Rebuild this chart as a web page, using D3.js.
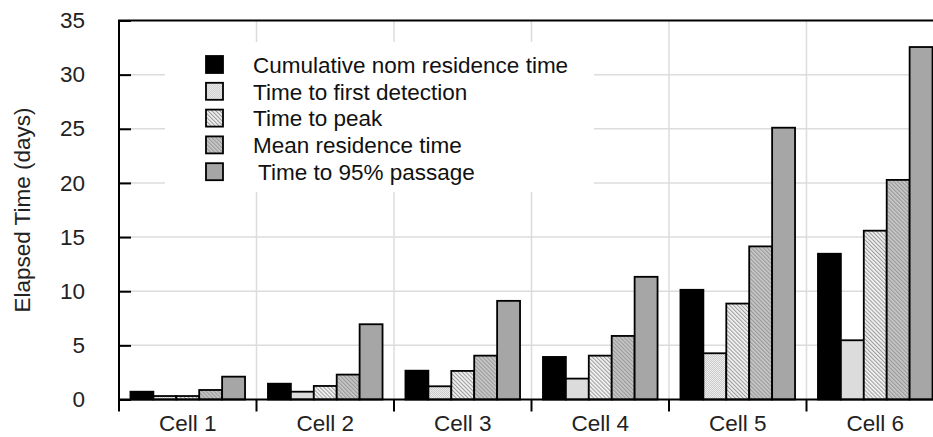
<!DOCTYPE html>
<html>
<head>
<meta charset="utf-8">
<script src="https://cdn.jsdelivr.net/npm/d3@7"></script>
<style>
  body { margin: 0; background: #fff; }
  svg { display: block; font-family: "Liberation Sans", Arial, sans-serif; }
</style>
</head>
<body>
<svg width="933" height="437"></svg>
<script>
// data
const cells = ["Cell 1", "Cell 2", "Cell 3", "Cell 4", "Cell 5", "Cell 6"];
const seriesNames = ["Cumulative nom residence time", "Time to first detection", "Time to peak",
                     "Mean residence time", "Time to 95% passage"];
const cumNom   = [0.72, 1.46, 2.66, 3.93, 10.13, 13.46];
const firstDet = [0.32, 0.72, 1.22, 1.93, 4.27, 5.47];
const toPeak   = [0.32, 1.25, 2.64, 4.05, 8.86, 15.59];
const meanRes  = [0.88, 2.30, 4.05, 5.87, 14.14, 20.28];
const pass95   = [2.11, 6.95, 9.11, 11.33, 25.1, 32.55];
const yTicks = [0, 5, 10, 15, 20, 25, 30, 35];

const series = [cumNom, firstDet, toPeak, meanRes, pass95];
const fills = ["#000", "url(#dots)", "url(#hatchLight)", "url(#hatchDark)", "#a6a6a6"];

const svg = d3.select("svg");
const plotLeft = 119, plotRight = 944, plotTop = 20.5, plotBottom = 399.5;
const fontSize = "22.5px";

// patterns
const defs = svg.append("defs");
const dots = defs.append("pattern").attr("id", "dots")
  .attr("width", 2).attr("height", 2).attr("patternUnits", "userSpaceOnUse");
dots.append("rect").attr("width", 2).attr("height", 2).attr("fill", "#ececec");
dots.append("rect").attr("width", 1).attr("height", 1).attr("fill", "#cccccc");
dots.append("rect").attr("x", 1).attr("y", 1).attr("width", 1).attr("height", 1).attr("fill", "#cccccc");

const hl = defs.append("pattern").attr("id", "hatchLight")
  .attr("width", 2.8).attr("height", 2.8).attr("patternUnits", "userSpaceOnUse")
  .attr("patternTransform", "rotate(-45)");
hl.append("rect").attr("width", 2.8).attr("height", 2.8).attr("fill", "#f6f6f6");
hl.append("rect").attr("width", 1.1).attr("height", 2.8).attr("fill", "#9c9c9c");

const hd = defs.append("pattern").attr("id", "hatchDark")
  .attr("width", 2.8).attr("height", 2.8).attr("patternUnits", "userSpaceOnUse")
  .attr("patternTransform", "rotate(-45)");
hd.append("rect").attr("width", 2.8).attr("height", 2.8).attr("fill", "#c8c8c8");
hd.append("rect").attr("width", 1.1).attr("height", 2.8).attr("fill", "#989898");

// scales
const x = d3.scaleBand().domain(cells).range([plotLeft, plotRight]);
const y = d3.scaleLinear().domain([0, 35]).range([plotBottom, plotTop]);
const xs = d3.scaleBand().domain(d3.range(series.length))
  .range([0, x.bandwidth()]).paddingOuter(0.5).paddingInner(0);

// grid
const grid = svg.append("g").attr("stroke", "#dcdcdc").attr("stroke-width", 1.5);
grid.selectAll(".h").data(yTicks.filter(d => d > 0 && d < 35)).enter().append("line")
  .attr("x1", plotLeft).attr("x2", plotRight).attr("y1", d => y(d)).attr("y2", d => y(d));
grid.selectAll(".v").data(cells.slice(1)).enter().append("line")
  .attr("x1", d => x(d)).attr("x2", d => x(d)).attr("y1", plotTop).attr("y2", plotBottom);

// legend box hides grid
svg.append("rect").attr("x", 165).attr("y", 42).attr("width", 429).attr("height", 150).attr("fill", "#fff");

// bars
const groups = svg.selectAll(".cell").data(cells).enter().append("g")
  .attr("transform", d => `translate(${x(d)},0)`);
groups.selectAll("rect").data((d, i) => series.map((s, k) => ({k: k, v: s[i]}))).enter().append("rect")
  .attr("x", d => xs(d.k))
  .attr("y", d => y(d.v))
  .attr("width", xs.bandwidth())
  .attr("height", d => plotBottom - y(d.v))
  .attr("fill", d => fills[d.k])
  .attr("stroke", "#000")
  .attr("stroke-width", 1.8);

// y axis
const yAxis = d3.axisLeft(y).tickValues(yTicks).tickSizeInner(-12).tickSizeOuter(0).tickPadding(34);
const gy = svg.append("g").attr("transform", `translate(${plotLeft},0)`).call(yAxis);
gy.select(".domain").remove();
gy.selectAll("line").attr("stroke", "#000").attr("stroke-width", 2);
gy.selectAll("text").attr("font-size", fontSize).attr("fill", "#222").attr("font-family", "Liberation Sans, Arial, sans-serif");

// x axis labels
const xAxis = d3.axisBottom(x).tickSize(0).tickPadding(16);
const gx = svg.append("g").attr("transform", `translate(0,${plotBottom})`).call(xAxis);
gx.select(".domain").remove();
gx.selectAll("text").attr("font-size", fontSize).attr("fill", "#222").attr("font-family", "Liberation Sans, Arial, sans-serif");

// boundary ticks
svg.append("g").selectAll("line").data(cells.concat(["end"])).enter().append("line")
  .attr("x1", d => d === "end" ? plotRight : x(d)).attr("x2", d => d === "end" ? plotRight : x(d))
  .attr("y1", plotBottom).attr("y2", plotBottom + 12)
  .attr("stroke", "#000").attr("stroke-width", 2);

// frame
svg.append("rect").attr("x", plotLeft).attr("y", plotTop)
  .attr("width", plotRight - plotLeft).attr("height", plotBottom - plotTop)
  .attr("fill", "none").attr("stroke", "#000").attr("stroke-width", 2);

// y label
svg.append("text")
  .attr("transform", `translate(22,${(plotTop + plotBottom) / 2}) rotate(-90)`)
  .attr("text-anchor", "middle").attr("dy", "0.35em")
  .attr("font-size", fontSize).attr("fill", "#222")
  .text("Elapsed Time (days)");

// legend
const legend = svg.append("g");
const items = legend.selectAll("g").data(seriesNames).enter().append("g")
  .attr("transform", (d, i) => `translate(206,${56 + i * 26.8})`);
items.append("rect").attr("width", 17).attr("height", 17)
  .attr("fill", (d, i) => fills[i]).attr("stroke", "#000").attr("stroke-width", 1.8);
items.append("text")
  .attr("x", (d, i) => i === 4 ? 52 : 47).attr("y", 9).attr("dy", "0.35em")
  .attr("font-size", fontSize).attr("fill", "#111")
  .text(d => d);
</script>
</body>
</html>
